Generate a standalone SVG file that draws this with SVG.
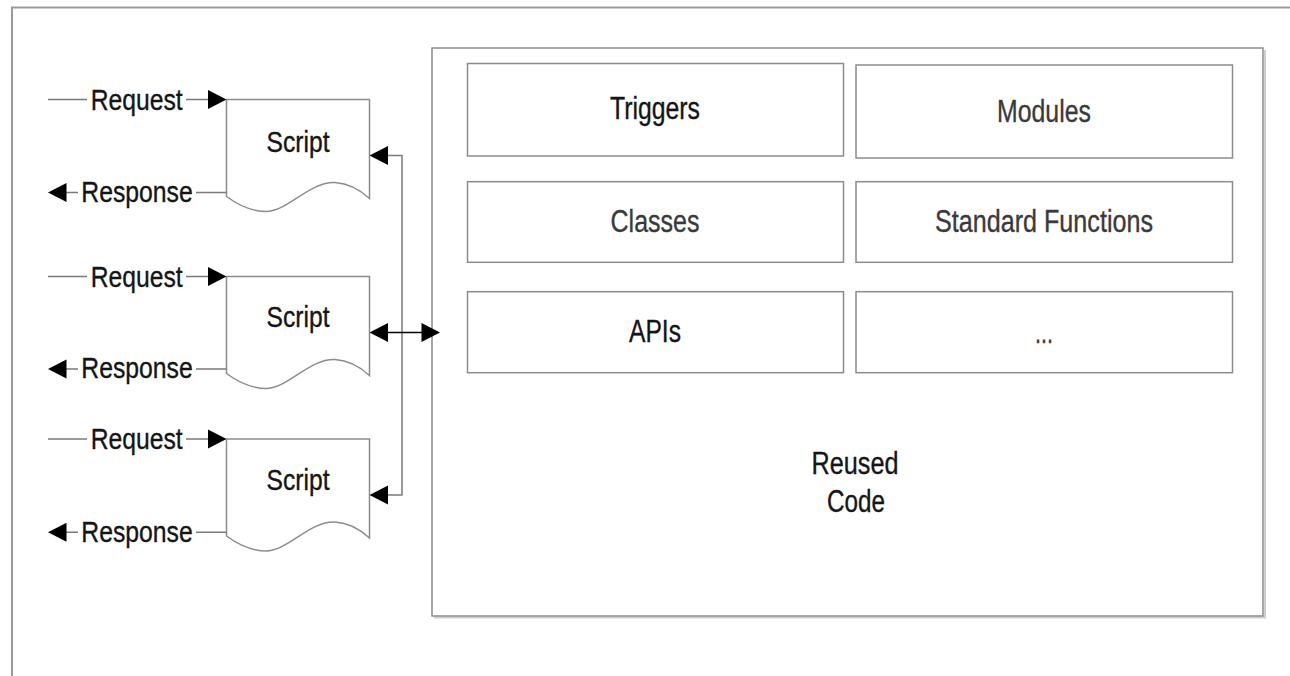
<svg xmlns="http://www.w3.org/2000/svg" width="1290" height="676" viewBox="0 0 1290 676">
<style>
  .frame { fill: none; stroke: #9a9a9a; stroke-width: 2; }
  .box { fill: #ffffff; stroke: #8c8c8c; stroke-width: 1.5; }
  .shadow { fill: none; stroke: #cfcfcf; stroke-width: 2; }
  .doc { fill: #ffffff; stroke: #8c8c8c; stroke-width: 1.5; }
  .conn { fill: none; stroke: #7a7a7a; stroke-width: 1.5; }
  .head { fill: #000000; stroke: none; }
  .lbl { font-family: "Liberation Sans", Arial, sans-serif; text-anchor: middle; stroke-width: 0.35; }
  .big { font-size: 31px; }
  .mid { font-size: 29px; }
  .dark { fill: #151515; stroke: #151515; }
  .grey { fill: #3a3a3a; stroke: #3a3a3a; }
</style>

<!-- outer page frame -->
<path class="frame" d="M12,676 L12,7.5 L1290,7.5"/>

<!-- Reused Code container -->
<g id="reused-code">
  <path class="shadow" d="M1265,50 L1265,617.5 L434,617.5"/>
  <rect class="box" x="432" y="48" width="831" height="568"/>
  <text class="lbl big dark" x="855" y="473.5" textLength="87" lengthAdjust="spacingAndGlyphs">Reused</text>
  <text class="lbl big dark" x="856" y="511.5" textLength="58" lengthAdjust="spacingAndGlyphs">Code</text>
</g>

<g id="triggers">
  <rect class="box" x="467.5" y="63.5" width="376" height="92.5"/>
  <text class="lbl big dark" x="655" y="118.5" textLength="90" lengthAdjust="spacingAndGlyphs">Triggers</text>
</g>
<g id="modules">
  <rect class="box" x="856" y="65" width="376.5" height="93"/>
  <text class="lbl big grey" x="1044" y="121.5" textLength="94" lengthAdjust="spacingAndGlyphs">Modules</text>
</g>
<g id="classes">
  <rect class="box" x="467.5" y="181.7" width="376" height="80.6"/>
  <text class="lbl big grey" x="655" y="231.5" textLength="89" lengthAdjust="spacingAndGlyphs">Classes</text>
</g>
<g id="standard-functions">
  <rect class="box" x="856" y="181.7" width="376.5" height="80.6"/>
  <text class="lbl big grey" x="1044" y="231.5" textLength="218" lengthAdjust="spacingAndGlyphs">Standard Functions</text>
</g>
<g id="apis">
  <rect class="box" x="467.5" y="291.7" width="376" height="81"/>
  <text class="lbl big dark" x="655" y="341.7" textLength="52" lengthAdjust="spacingAndGlyphs">APIs</text>
</g>
<g id="more">
  <rect class="box" x="856" y="291.7" width="376.5" height="81"/>
  <text class="lbl big grey" x="1044" y="342.7" textLength="18" lengthAdjust="spacingAndGlyphs">...</text>
</g>

<!-- Script documents -->
<g id="script1" transform="translate(0,99.5)">
  <path class="doc" d="M226.5,0 L369.5,0 L369.5,99 C362,92 350,84 335,83 C310,82 290,110 267,112 C254,112 240,107 226.5,97 Z"/>
  <text class="lbl mid dark" x="298" y="52.2" textLength="63" lengthAdjust="spacingAndGlyphs">Script</text>
</g>
<g id="script2" transform="translate(0,276.5)">
  <path class="doc" d="M226.5,0 L369.5,0 L369.5,99 C362,92 350,84 335,83 C310,82 290,110 267,112 C254,112 240,107 226.5,97 Z"/>
  <text class="lbl mid dark" x="298" y="50.2" textLength="63" lengthAdjust="spacingAndGlyphs">Script</text>
</g>
<g id="script3" transform="translate(0,439)">
  <path class="doc" d="M226.5,0 L369.5,0 L369.5,99 C362,92 350,84 335,83 C310,82 290,110 267,112 C254,112 240,107 226.5,97 Z"/>
  <text class="lbl mid dark" x="298" y="51" textLength="63" lengthAdjust="spacingAndGlyphs">Script</text>
</g>

<!-- Connectors -->
<g id="connectors">
  <!-- request / response 1 -->
  <path class="conn" d="M48,99.5 L87,99.5 M186,99.5 L210,99.5"/>
  <path class="head" d="M226.5,99.5 L208,90 L208,109 Z"/>
  <text class="lbl mid dark" x="136.7" y="109.8" textLength="92" lengthAdjust="spacingAndGlyphs">Request</text>
  <path class="conn" d="M64,192.5 L78,192.5 M196,192.5 L226.5,192.5"/>
  <path class="head" d="M48,192.5 L66.5,183 L66.5,202 Z"/>
  <text class="lbl mid dark" x="137" y="201.8" textLength="111.5" lengthAdjust="spacingAndGlyphs">Response</text>

  <!-- request / response 2 -->
  <path class="conn" d="M48,276.5 L87,276.5 M186,276.5 L210,276.5"/>
  <path class="head" d="M226.5,276.5 L208,267 L208,286 Z"/>
  <text class="lbl mid dark" x="136.7" y="286.8" textLength="92" lengthAdjust="spacingAndGlyphs">Request</text>
  <path class="conn" d="M64,369 L78,369 M196,369 L226.5,369"/>
  <path class="head" d="M48,369 L66.5,359.5 L66.5,378.5 Z"/>
  <text class="lbl mid dark" x="137" y="378.3" textLength="111.5" lengthAdjust="spacingAndGlyphs">Response</text>

  <!-- request / response 3 -->
  <path class="conn" d="M48,439 L87,439 M186,439 L210,439"/>
  <path class="head" d="M226.5,439 L208,429.5 L208,448.5 Z"/>
  <text class="lbl mid dark" x="136.7" y="449.3" textLength="92" lengthAdjust="spacingAndGlyphs">Request</text>
  <path class="conn" d="M64,532.3 L78,532.3 M196,532.3 L226.5,532.3"/>
  <path class="head" d="M48,532.3 L66.5,522.8 L66.5,541.8 Z"/>
  <text class="lbl mid dark" x="137" y="541.6" textLength="111.5" lengthAdjust="spacingAndGlyphs">Response</text>

  <!-- bus to reused code -->
  <path class="conn" d="M386,155.5 L402,155.5 L402,495 L386,495"/>
  <path class="head" d="M369.5,155.5 L388,146 L388,165 Z"/>
  <path class="head" d="M369.5,495 L388,485.5 L388,504.5 Z"/>
  <path class="conn" d="M386,332.5 L424,332.5" style="stroke:#000"/>
  <path class="head" d="M369.5,332.5 L388,323 L388,342 Z"/>
  <path class="head" d="M440,332.5 L421.5,323 L421.5,342 Z"/>
</g>
</svg>
